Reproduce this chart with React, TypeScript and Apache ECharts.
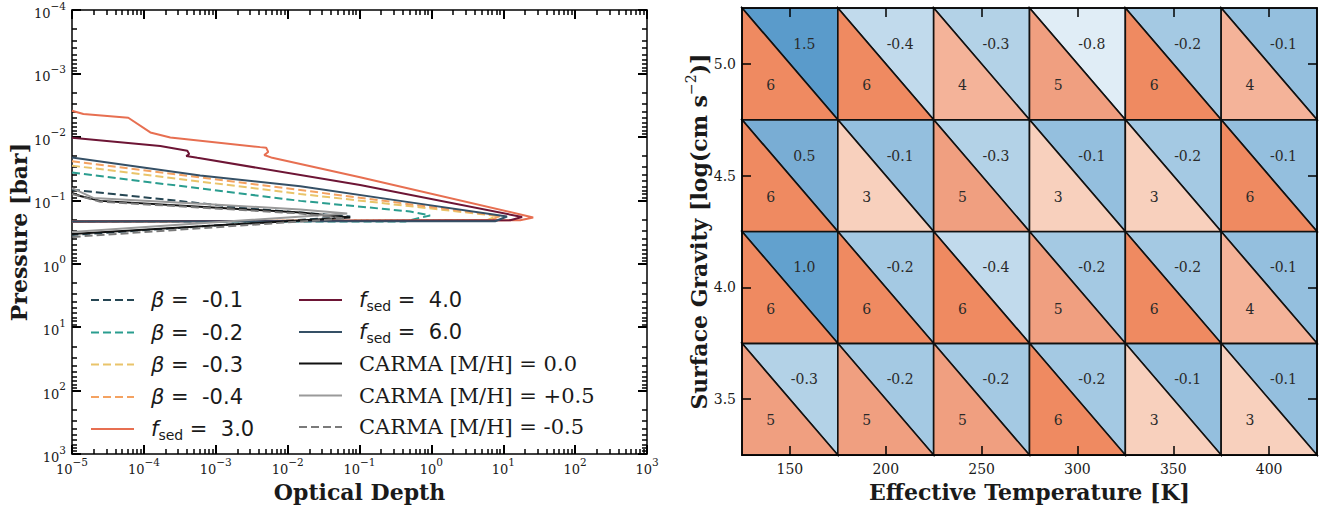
import React, { useEffect, useRef } from 'react';
import * as echarts from 'echarts';

// ---------- Left panel: cloud optical depth profiles, points are [optical depth, pressure (bar)] ----------
const betaM01 = [[1e-5, 0.0678], [1.23e-4, 0.0917], [3.02e-3, 0.135], [0.0743, 0.18], [1e-5, 0.352]];
const betaM02 = [[1e-5, 0.0365], [1.5e-2, 0.102], [0.507, 0.15], [0.96, 0.173], [0.433, 0.215], [1e-5, 0.215]];
const betaM03 = [[1e-5, 0.0284], [1.5e-2, 0.0794], [8.2, 0.176], [5.97, 0.206], [1e-5, 0.215]];
const betaM04 = [[1e-5, 0.0243], [1.5e-2, 0.0689], [9.06, 0.176], [6.6, 0.206], [1e-5, 0.215]];
const fsed30 = [
  [1e-5, 3.87e-3], [1.44e-5, 4.35e-3], [6.07e-5, 5.0e-3], [1.23e-4, 8.5e-3], [2.33e-4, 1.02e-2],
  [4.16e-3, 1.45e-2], [5.03e-3, 1.48e-2], [5.37e-3, 1.73e-2], [4.73e-3, 1.93e-2], [6.11e-3, 2.14e-2],
  [0.102, 0.0434], [26.1, 0.186], [17.2, 0.206], [1e-5, 0.215],
];
const fsed40 = [
  [1e-5, 1.03e-2], [1.69e-4, 1.39e-2], [4.02e-4, 1.65e-2], [4.27e-4, 1.86e-2], [3.89e-4, 2.0e-2],
  [5.54e-4, 2.14e-2], [0.102, 0.0572], [18.3, 0.183], [12.5, 0.206], [1e-5, 0.215],
];
const fsed60 = [
  [1e-5, 2.12e-2], [1.23e-4, 3.16e-2], [6.08e-4, 4.06e-2], [1.5e-2, 0.0598], [0.368, 0.102],
  [11.3, 0.18], [7.7, 0.214], [1e-5, 0.215],
];
const carma00 = [[1e-5, 0.0768], [1.3e-5, 0.0853], [2.48e-5, 0.102], [6.08e-4, 0.126], [1.5e-2, 0.156], [0.0743, 0.186], [1e-5, 0.34]];
const carmaP05 = [[1e-5, 0.0643], [1.98e-5, 0.0917], [6.08e-4, 0.113], [1.5e-2, 0.14], [0.0675, 0.161], [1e-5, 0.316]];
const carmaM05 = [[1e-5, 0.0794], [2.48e-5, 0.105], [6.08e-4, 0.13], [1.5e-2, 0.161], [0.0632, 0.193], [1e-5, 0.378]];

const betaValues = ['-0.1', '-0.2', '-0.3', '-0.4'];
const fsedValues = ['3.0', '4.0', '6.0'];
const carmaMetallicity = ['0.0', '+0.5', '-0.5'];

// ---------- Right panel: grid of best-fit beta (upper triangles) and fsed (lower triangles) ----------
const teffLabels = ['150', '200', '250', '300', '350', '400'];
const loggLabels = ['5.0', '4.5', '4.0', '3.5'];
const betaGrid = [
  [1.5, -0.4, -0.3, -0.8, -0.2, -0.1],
  [0.5, -0.1, -0.3, -0.1, -0.2, -0.1],
  [1.0, -0.2, -0.4, -0.2, -0.2, -0.1],
  [-0.3, -0.2, -0.2, -0.2, -0.1, -0.1],
];
const fsedGrid = [
  [6, 6, 4, 5, 6, 4],
  [6, 3, 5, 3, 3, 6],
  [6, 6, 6, 5, 6, 4],
  [5, 5, 5, 6, 3, 3],
];

const SERIF = 'DejaVu Serif';
const SANS = 'DejaVu Sans';
const INK = '#1a1a1a';
const TICK = '#000000';
const TAU_MIN = 1e-5;
const TAU_MAX = 1e3;
const P_MIN = 1e-4;
const P_MAX = 1e3;

const betaNames = betaValues.map((v) => `β = ${v}`);
const fsedNames = fsedValues.map((v) => `fsed = ${v}`);
const carmaNames = carmaMetallicity.map((v) => `CARMA [M/H] = ${v}`);

const lineSeries = [
  { name: betaNames[0], data: betaM01, color: '#264653', dashed: true },
  { name: betaNames[1], data: betaM02, color: '#2a9d8f', dashed: true },
  { name: betaNames[2], data: betaM03, color: '#e9c46a', dashed: true },
  { name: betaNames[3], data: betaM04, color: '#f4a261', dashed: true },
  { name: fsedNames[0], data: fsed30, color: '#e76f51', dashed: false },
  { name: fsedNames[1], data: fsed40, color: '#6d1535', dashed: false },
  { name: fsedNames[2], data: fsed60, color: '#355066', dashed: false },
  { name: carmaNames[0], data: carma00, color: '#111111', dashed: false },
  { name: carmaNames[1], data: carmaP05, color: '#9a9a9a', dashed: false },
  { name: carmaNames[2], data: carmaM05, color: '#7a7a7a', dashed: true },
];

// legend rows: [series name, left of the key line, vertical centre]
const legendRows: [string, number, number][] = [
  [betaNames[0], 90, 300],
  [betaNames[1], 90, 332.5],
  [betaNames[2], 90, 364.5],
  [betaNames[3], 90, 397],
  [fsedNames[0], 90, 429],
  [fsedNames[1], 298, 300],
  [fsedNames[2], 298, 332],
  [carmaNames[0], 298, 363.5],
  [carmaNames[1], 298, 395.5],
  [carmaNames[2], 298, 427],
];

const pow10Label = (v: number) => {
  const e = Math.round(Math.log10(v));
  return `{b|10}{e|${e < 0 ? '−' + -e : e}}`;
};

const expRich = {
  b: { fontFamily: SERIF, fontSize: 13, lineHeight: 20, color: INK, verticalAlign: 'bottom' },
  e: { fontFamily: SERIF, fontSize: 10.5, lineHeight: 11, color: INK, verticalAlign: 'top' },
};

const frameLine = { show: true, onZero: false, lineStyle: { color: '#000', width: 1.5 } };
const titleStyle = { fontFamily: SERIF, fontWeight: 'bold', fontSize: 22, color: INK };

// Log axes: one tick per decade, minor ticks at 2..9 times each decade, all pointing inwards.
const logAxis = (extra: any) => ({
  type: 'log',
  logBase: 10,
  interval: 1,
  axisLine: frameLine,
  axisTick: { show: true, inside: true, length: 9, lineStyle: { color: TICK, width: 2 } },
  minorTick: { show: true, splitNumber: 9, length: 5, lineStyle: { color: TICK, width: 1.5 } },
  splitLine: { show: false },
  minorSplitLine: { show: false },
  ...extra,
});

const catAxis = (extra: any) => ({
  type: 'category',
  gridIndex: 1,
  axisLine: frameLine,
  axisTick: { show: true, inside: true, alignWithLabel: true, interval: 0, length: 9, lineStyle: { color: '#000', width: 1.5 } },
  splitLine: { show: false },
  z: 5,
  ...extra,
});

const legendFormatter = (name: string) => {
  if (name.startsWith('β')) return `{it|β}{t| =  ${name.slice(4)}}`;
  if (name.startsWith('fsed')) return `{it|f}{sub|sed}{t| =  ${name.slice(7)}}`;
  return `{s|${name}}`;
};

const legendRich = {
  it: { fontFamily: SANS, fontStyle: 'italic', fontSize: 21, lineHeight: 26, color: INK },
  t: { fontFamily: SANS, fontSize: 21, lineHeight: 26, color: INK },
  sub: { fontFamily: SANS, fontSize: 14, lineHeight: 14, padding: [12, 0, 0, 0], verticalAlign: 'bottom', color: INK },
  s: { fontFamily: SERIF, fontSize: 21, lineHeight: 26, color: INK },
};

const legends = legendRows.map(([name, left, cy]) => ({
  orient: 'vertical',
  left,
  top: cy - 13,
  padding: 0,
  itemWidth: 43,
  itemHeight: 14,
  selectedMode: false,
  data: [name],
  itemStyle: { opacity: 0 },
  formatter: legendFormatter,
  textStyle: { padding: [0, 0, 0, 12], lineHeight: 26, rich: legendRich },
}));

// One renderer per triangle half: the upper-right half carries beta, the lower-left half carries fsed.
const triangleRenderer = (upper: boolean) => (params: any, api: any) => {
  const c = api.coord([api.value(0), api.value(1)]);
  const s = api.size([1, 1]);
  const x0 = c[0] - s[0] / 2;
  const x1 = c[0] + s[0] / 2;
  const y0 = c[1] - s[1] / 2;
  const y1 = c[1] + s[1] / 2;
  const v = api.value(2);
  const points = upper ? [[x0, y0], [x1, y0], [x1, y1]] : [[x0, y0], [x0, y1], [x1, y1]];
  const text = upper ? Number(v).toFixed(1) : String(v);
  return {
    type: 'group',
    children: [
      {
        type: 'polygon',
        shape: { points },
        style: { fill: api.visual('color'), stroke: '#111', lineWidth: 1.6, lineJoin: 'miter' },
      },
      {
        type: 'text',
        x: upper ? x0 + 0.65 * s[0] : x0 + 0.3 * s[0],
        y: upper ? y0 + 0.32 * s[1] : y0 + 0.69 * s[1],
        style: {
          text,
          fill: '#2a2a2a',
          font: `14px "${SERIF}"`,
          align: 'center',
          verticalAlign: 'middle',
          textAlign: 'center',
          textVerticalAlign: 'middle',
        },
      },
    ],
  };
};

const cellData = (grid: number[][]) =>
  grid.flatMap((row, r) => row.map((v, c) => [c, r, v]));

const buildOption = () => ({
  animation: false,
  backgroundColor: '#ffffff',
  grid: [
    { left: 72, top: 8, width: 575, height: 454 },
    { left: 742, top: 8, width: 575, height: 451 },
  ],
  xAxis: [
    logAxis({
      gridIndex: 0,
      position: 'bottom',
      min: TAU_MIN,
      max: TAU_MAX,
      axisLabel: { formatter: pow10Label, rich: expRich, margin: 2 },
      name: 'Optical Depth',
      nameLocation: 'middle',
      nameGap: 18,
      nameTextStyle: titleStyle,
    }),
    logAxis({ gridIndex: 0, position: 'top', min: TAU_MIN, max: TAU_MAX, axisLabel: { show: false } }),
    catAxis({
      position: 'bottom',
      data: teffLabels,
      axisLabel: { fontFamily: SERIF, fontSize: 14, color: INK, margin: 7 },
      name: 'Effective Temperature [K]',
      nameLocation: 'middle',
      nameGap: 20,
      nameTextStyle: titleStyle,
    }),
    catAxis({ position: 'top', data: teffLabels, axisLabel: { show: false } }),
  ],
  yAxis: [
    logAxis({
      gridIndex: 0,
      position: 'left',
      inverse: true,
      min: P_MIN,
      max: P_MAX,
      axisLabel: { formatter: pow10Label, rich: expRich, margin: 6 },
      name: 'Pressure [bar]',
      nameLocation: 'middle',
      nameGap: 42,
      nameTextStyle: titleStyle,
    }),
    logAxis({ gridIndex: 0, position: 'right', inverse: true, min: P_MIN, max: P_MAX, axisLabel: { show: false } }),
    catAxis({
      position: 'left',
      inverse: true,
      data: loggLabels,
      axisLabel: { fontFamily: SERIF, fontSize: 14, color: INK, margin: 6 },
      name: '{a|Surface Gravity [log(cm s}{s|−2}{a|)]}',
      nameLocation: 'middle',
      nameGap: 31,
      nameTextStyle: {
        rich: {
          a: { ...titleStyle, lineHeight: 26, verticalAlign: 'bottom' },
          s: { fontFamily: SERIF, fontSize: 14, lineHeight: 14, color: INK, verticalAlign: 'top' },
        },
      },
    }),
    catAxis({ position: 'right', inverse: true, data: loggLabels, axisLabel: { show: false } }),
  ],
  legend: legends,
  visualMap: [
    {
      type: 'continuous',
      show: false,
      seriesIndex: lineSeries.length,
      dimension: 2,
      min: -1,
      max: 1.5,
      inRange: { color: ['#eef5fa', '#d8e8f3', '#bfd9eb', '#8ebcdc', '#84b5d8', '#76abd3', '#66a3cf', '#5d9dcc', '#5a9bcb'] },
    },
    {
      type: 'continuous',
      show: false,
      seriesIndex: lineSeries.length + 1,
      dimension: 2,
      min: 3,
      max: 6,
      inRange: { color: ['#f8d0bd', '#f4b399', '#f09f80', '#ef8a61'] },
    },
  ],
  series: [
    ...lineSeries.map((s) => ({
      type: 'line',
      name: s.name,
      xAxisIndex: 0,
      yAxisIndex: 0,
      data: s.data,
      symbol: 'none',
      clip: true,
      color: s.color,
      lineStyle: { color: s.color, width: 2, type: s.dashed ? [8, 4] : 'solid' },
      z: 3,
    })),
    {
      type: 'custom',
      name: 'beta',
      coordinateSystem: 'cartesian2d',
      xAxisIndex: 2,
      yAxisIndex: 2,
      data: cellData(betaGrid),
      encode: { x: 0, y: 1 },
      renderItem: triangleRenderer(true),
      z: 2,
    },
    {
      type: 'custom',
      name: 'fsed',
      coordinateSystem: 'cartesian2d',
      xAxisIndex: 2,
      yAxisIndex: 2,
      data: cellData(fsedGrid),
      encode: { x: 0, y: 1 },
      renderItem: triangleRenderer(false),
      z: 2,
    },
  ],
});

export default function App() {
  const ref = useRef<HTMLDivElement>(null);
  useEffect(() => {
    if (!ref.current) return;
    const chart = echarts.init(ref.current, null, { renderer: 'svg' });
    chart.setOption(buildOption() as any);
    return () => chart.dispose();
  }, []);
  return (
    <div
      ref={ref}
      style={{ position: 'fixed', left: 0, top: 0, width: 1337, height: 508, background: '#ffffff' }}
    />
  );
}
